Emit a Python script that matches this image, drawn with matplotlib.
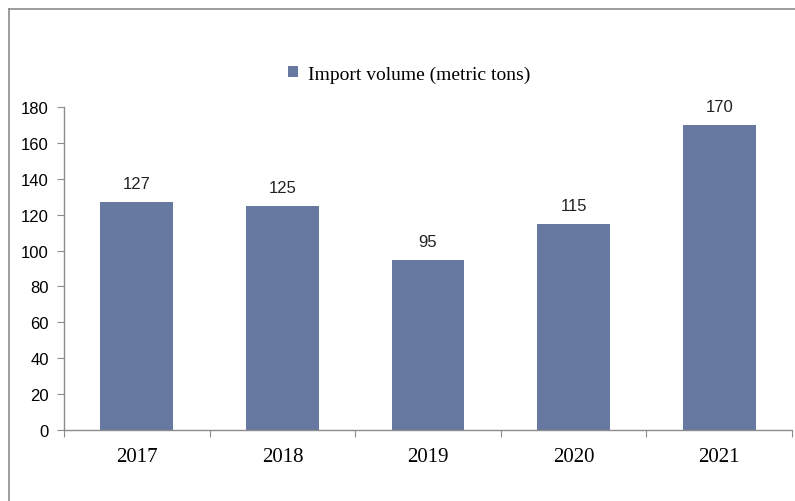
import matplotlib.pyplot as plt
import numpy as np
from matplotlib.lines import Line2D

years = ["2017", "2018", "2019", "2020", "2021"]
import_volume = [127, 125, 95, 115, 170]
yticks = [0, 20, 40, 60, 80, 100, 120, 140, 160, 180]

bar_color = "#6779a0"
axis_color = "#8c8c8c"

fig = plt.figure(figsize=(7.95, 5.02), dpi=100)
ax = fig.add_axes([64 / 795, 71 / 502, 728 / 795, 323 / 502])

x = np.arange(len(years))
ax.bar(x, import_volume, width=0.5, color=bar_color, label="Import volume (metric tons)")

for xi, v in zip(x, import_volume):
    ax.text(xi, v + 6, str(v), ha="center", va="bottom",
            fontsize=12, family="Liberation Sans", color="#222222")

ax.set_xlim(-0.5, len(years) - 0.5)
ax.set_ylim(0, 180)
ax.set_yticks(yticks)
ax.set_yticklabels([str(t) for t in yticks], family="Liberation Sans", fontsize=12)

# year labels centred under bars, ticks on the category boundaries
ax.set_xticks(np.arange(len(years) + 1) - 0.5)
ax.set_xticklabels([])
ax.set_xticks(x, minor=True)
ax.set_xticklabels(years, minor=True, family="Liberation Serif", fontsize=15)
ax.tick_params(axis="x", which="minor", length=0, pad=12)
ax.tick_params(axis="x", which="major", length=5, color=axis_color, direction="out")
ax.tick_params(axis="y", length=5, color=axis_color, pad=6)

for side in ["top", "right"]:
    ax.spines[side].set_visible(False)
for side in ["left", "bottom"]:
    ax.spines[side].set_color(axis_color)
    ax.spines[side].set_linewidth(1)

leg = fig.legend(loc="center", bbox_to_anchor=(409 / 795, 1 - 75 / 502),
                 frameon=False, handlelength=0.5, handleheight=0.5, handletextpad=0.5,
                 prop={"family": "Liberation Serif", "size": 14})

# outer frame (top and left edges)
fig.add_artist(Line2D([9 / 795, 1], [1 - 10 / 502, 1 - 10 / 502], color="#8c8c8c", lw=1.2,
                      transform=fig.transFigure))
fig.add_artist(Line2D([9 / 795, 9 / 795], [0, 1 - 10 / 502], color="#8c8c8c", lw=1.2,
                      transform=fig.transFigure))

fig.savefig("out.png", dpi=100)
